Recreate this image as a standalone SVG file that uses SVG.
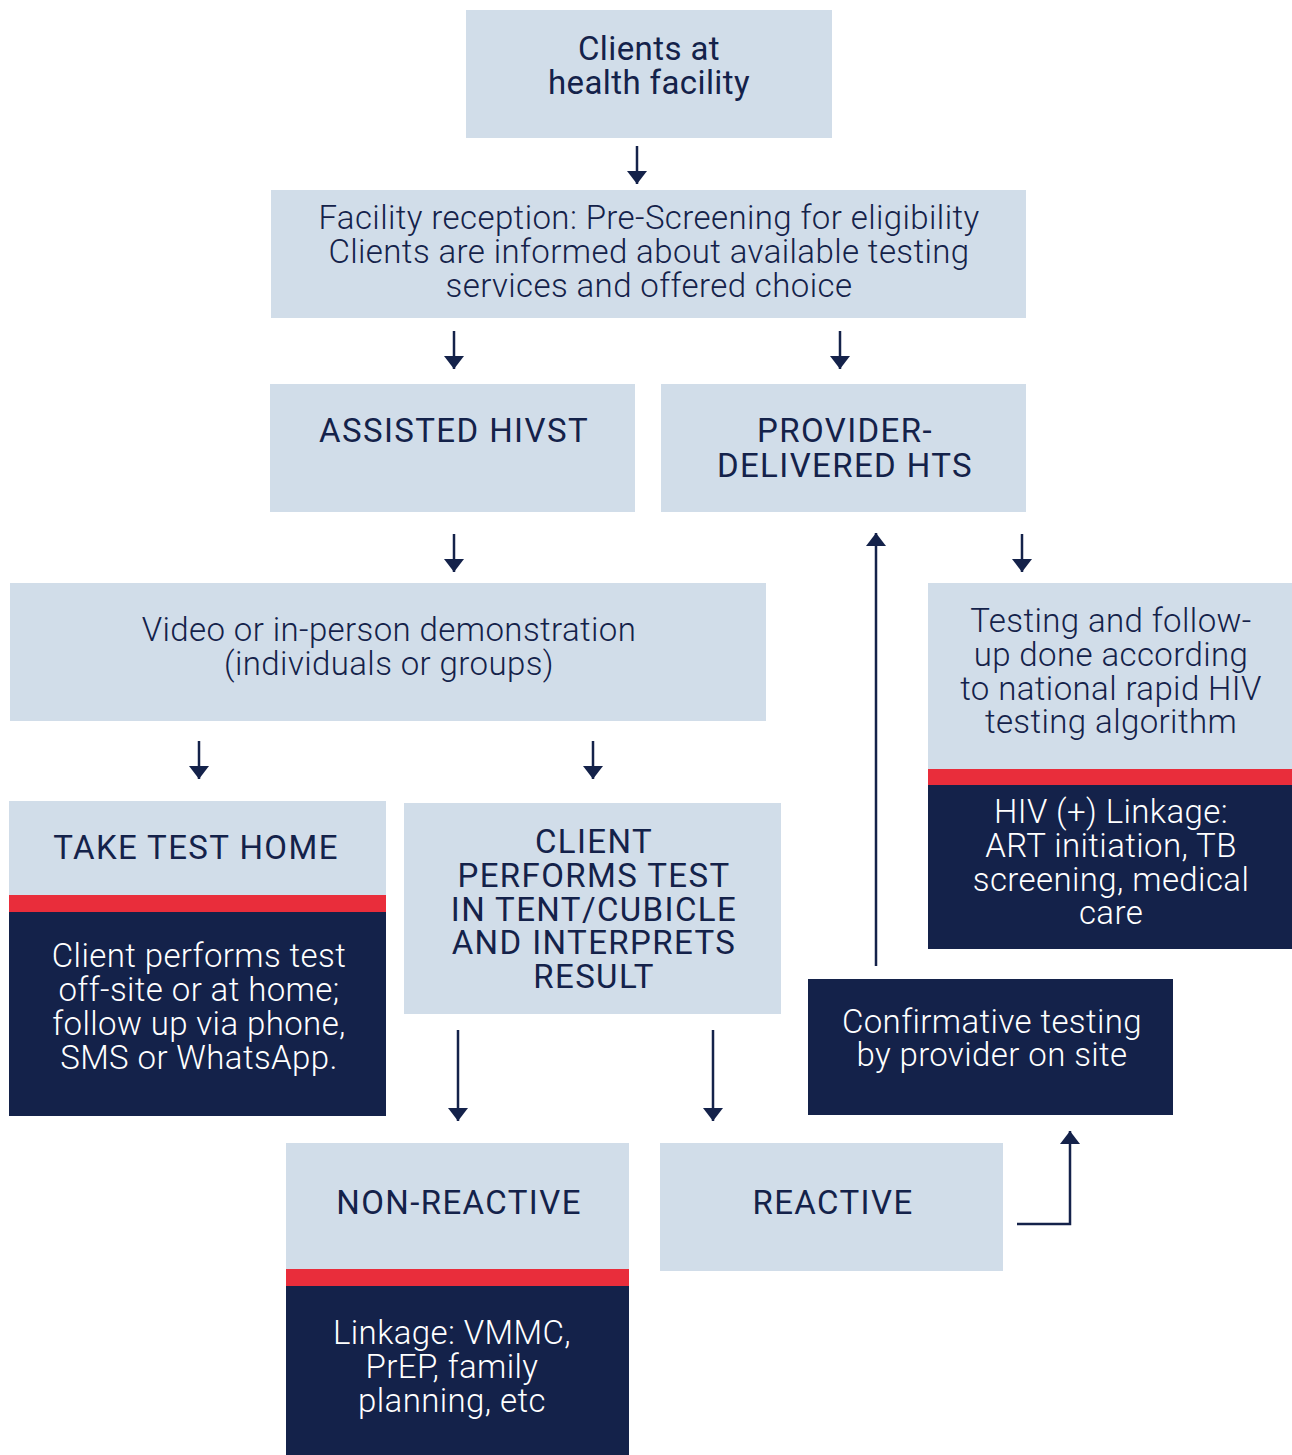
<svg xmlns="http://www.w3.org/2000/svg" width="1292" height="1455" viewBox="0 0 1292 1455">
<style>
.lt{fill:#d1dde9}
.nv{fill:#14224a}
.rd{fill:#e92d3b}
text{font-family:Roboto,"Liberation Sans",sans-serif;font-size:33px;text-anchor:middle;letter-spacing:0.4px}
.d{fill:#14224a}
.w{fill:#ffffff;font-weight:300}
.l{font-weight:300}
.c{letter-spacing:1.4px}
.cn line,.cn path{stroke:#14224a;stroke-width:2.5;fill:none}
</style>
<defs>
<marker id="ah" markerUnits="userSpaceOnUse" markerWidth="14" markerHeight="22" viewBox="0 0 14 22" refX="13" refY="11" orient="auto">
<path d="M0,1 L13,11 L0,21 z" fill="#14224a"/>
</marker>
</defs>
<rect width="1292" height="1455" fill="#ffffff"/>
<g id="n1"><rect class="lt" x="466" y="10" width="366" height="128"/>
<text class="d" x="649" y="60">Clients at</text><text class="d" x="649" y="94">health facility</text></g>
<g id="n2"><rect class="lt" x="271" y="190" width="755" height="128"/>
<text class="d l" x="649" y="229">Facility reception: Pre-Screening for eligibility</text>
<text class="d l" x="649" y="263">Clients are informed about available testing</text>
<text class="d l" x="649" y="297">services and offered choice</text></g>
<g id="n3"><rect class="lt" x="270" y="384" width="365" height="128"/>
<text class="d c" x="454" y="442">ASSISTED HIVST</text></g>
<g id="n4"><rect class="lt" x="661" y="384" width="365" height="128"/>
<text class="d c" x="845" y="442">PROVIDER-</text><text class="d c" x="845" y="477">DELIVERED HTS</text></g>
<g id="n5"><rect class="lt" x="10" y="583" width="756" height="138"/>
<text class="d l" x="389" y="641">Video or in-person demonstration</text>
<text class="d l" x="389" y="675">(individuals or groups)</text></g>
<g id="n6"><rect class="lt" x="928" y="583" width="364" height="186"/>
<rect class="rd" x="928" y="769" width="364" height="16"/>
<rect class="nv" x="928" y="785" width="364" height="164"/>
<text class="d l" x="1111" y="632">Testing and follow-</text>
<text class="d l" x="1111" y="666">up done according</text>
<text class="d l" x="1111" y="700">to national rapid HIV</text>
<text class="d l" x="1111" y="733">testing algorithm</text>
<text class="w" x="1111" y="823">HIV (+) Linkage:</text>
<text class="w" x="1111" y="857">ART initiation, TB</text>
<text class="w" x="1111" y="891">screening, medical</text>
<text class="w" x="1111" y="924">care</text></g>
<g id="n7"><rect class="lt" x="9" y="801" width="377" height="94"/>
<rect class="rd" x="9" y="895" width="377" height="17"/>
<rect class="nv" x="9" y="912" width="377" height="204"/>
<text class="d c" x="196" y="859">TAKE TEST HOME</text>
<text class="w" x="199" y="967">Client performs test</text>
<text class="w" x="199" y="1001">off-site or at home;</text>
<text class="w" x="199" y="1035">follow up via phone,</text>
<text class="w" x="199" y="1069">SMS or WhatsApp.</text></g>
<g id="n8"><rect class="lt" x="404" y="803" width="377" height="211"/>
<text class="d c" x="594" y="853">CLIENT</text>
<text class="d c" x="594" y="887">PERFORMS TEST</text>
<text class="d c" x="594" y="921">IN TENT/CUBICLE</text>
<text class="d c" x="594" y="954">AND INTERPRETS</text>
<text class="d c" x="594" y="988">RESULT</text></g>
<g id="n9"><rect class="nv" x="808" y="979" width="365" height="136"/>
<text class="w" x="992" y="1033">Confirmative testing</text>
<text class="w" x="992" y="1066">by provider on site</text></g>
<g id="n10"><rect class="lt" x="286" y="1143" width="343" height="126"/>
<rect class="rd" x="286" y="1269" width="343" height="17"/>
<rect class="nv" x="286" y="1286" width="343" height="169"/>
<text class="d c" x="459" y="1214">NON-REACTIVE</text>
<text class="w" x="452" y="1344">Linkage: VMMC,</text>
<text class="w" x="452" y="1378">PrEP, family</text>
<text class="w" x="452" y="1412">planning, etc</text></g>
<g id="n11"><rect class="lt" x="660" y="1143" width="343" height="128"/>
<text class="d c" x="833" y="1214">REACTIVE</text></g>
<g id="connectors" class="cn">
<line x1="637" y1="146" x2="637" y2="184" marker-end="url(#ah)"/>
<line x1="454" y1="331" x2="454" y2="369" marker-end="url(#ah)"/>
<line x1="840" y1="331" x2="840" y2="369" marker-end="url(#ah)"/>
<line x1="454" y1="534" x2="454" y2="572" marker-end="url(#ah)"/>
<line x1="1022" y1="534" x2="1022" y2="572" marker-end="url(#ah)"/>
<line x1="876" y1="966" x2="876" y2="533" marker-end="url(#ah)"/>
<line x1="199" y1="741" x2="199" y2="779" marker-end="url(#ah)"/>
<line x1="593" y1="741" x2="593" y2="779" marker-end="url(#ah)"/>
<line x1="458" y1="1030" x2="458" y2="1121" marker-end="url(#ah)"/>
<line x1="713" y1="1030" x2="713" y2="1121" marker-end="url(#ah)"/>
<path d="M1017,1224 L1070,1224 L1070,1131" marker-end="url(#ah)"/>
</g>
</svg>
